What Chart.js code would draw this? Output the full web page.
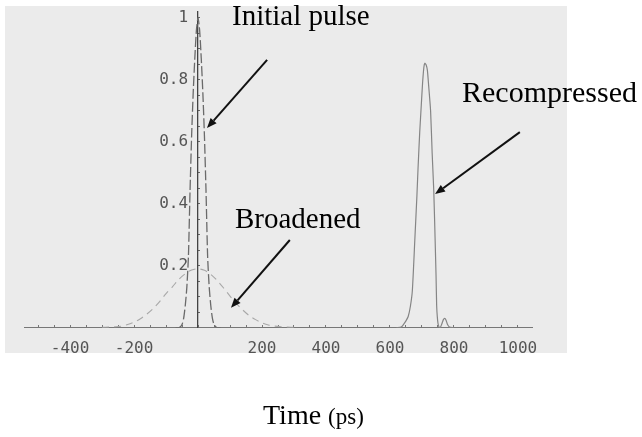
<!DOCTYPE html>
<html><head><meta charset="utf-8">
<script src="https://cdn.jsdelivr.net/npm/chart.js@4.4.1/dist/chart.umd.min.js"></script>
<style>
html,body{margin:0;padding:0;background:#fff;}
#wrap{position:relative;width:642px;height:437px;overflow:hidden;}
#panel{position:absolute;left:5px;top:6px;width:562px;height:347px;background:#ebebeb;}
canvas{position:absolute;left:0;top:0;}
.lbl{position:absolute;font-family:"Liberation Serif","Times New Roman",serif;color:#000;line-height:1;white-space:nowrap;}
</style></head><body>
<div id="wrap">
<div id="panel"></div>
<canvas id="c" width="642" height="437"></canvas>
<div class="lbl" style="left:232px;top:1px;font-size:29px">Initial pulse</div>
<div class="lbl" style="left:235px;top:204px;font-size:29px">Broadened</div>
<div class="lbl" style="left:462px;top:77px;font-size:30px">Recompressed</div>
<div class="lbl" style="left:263px;top:401px;font-size:28px">Time <span style="font-size:23px">(ps)</span></div>
</div>
<script>
// ---- data (time in ps, intensity normalised) ----
const initialT = [-70,-60,-55,-50,-45,-40,-35,-30,-25,-20,-15,-10,-5,0,5,10,15,20,25,30,35,40,45,50,55,60,70];
const initialI = [0,0,0.003,0.01,0.03,0.07,0.13,0.23,0.44,0.62,0.76,0.87,0.96,1.0,0.96,0.87,0.76,0.62,0.44,0.23,0.13,0.07,0.03,0.01,0.003,0,0];

const broadT = [-300,-280,-260,-240,-220,-200,-180,-160,-140,-120,-100,-80,-60,-40,-20,0,20,40,60,80,100,120,140,160,180,200,220,240,260,280,300];
const broadI = [0.001,0.002,0.003,0.005,0.01,0.018,0.029,0.044,0.062,0.084,0.11,0.132,0.156,0.174,0.186,0.19,0.185,0.172,0.152,0.128,0.102,0.078,0.057,0.039,0.026,0.016,0.009,0.005,0.003,0.002,0.001];

const recompT = [620,635,642,650,657,664,670,678,684,688,693,698,702,706,709,713,717,721,727,732,737,741,744,746,748,750,753,757,762,767,771,775,780,786,800];
const recompI = [0,0.002,0.01,0.022,0.036,0.07,0.12,0.29,0.42,0.52,0.63,0.72,0.79,0.84,0.853,0.848,0.83,0.78,0.7,0.56,0.44,0.29,0.17,0.07,0.035,0.015,0.003,0,0.012,0.026,0.03,0.025,0.01,0.002,0];

const xTickLabels = ['-400','-200','200','400','600','800','1000'];
const yTickLabels = ['0.2','0.4','0.6','0.8','1'];

// annotation arrows in data coordinates [time, intensity]
const arrowTails = [[216,0.864],[287,0.283],[1006,0.631]];
const arrowTips  = [[28,0.644],[103,0.064],[741,0.431]];

const pts = (t, v) => t.map((x, i) => ({x: x, y: v[i]}));

const arrowPlugin = {
  id: 'arrows',
  afterDatasetsDraw(chart) {
    const {ctx, scales: {x, y}} = chart;
    ctx.save();
    ctx.strokeStyle = '#111';
    ctx.fillStyle = '#111';
    ctx.lineWidth = 2;
    for (let i = 0; i < arrowTails.length; i++) {
      const x1 = x.getPixelForValue(arrowTails[i][0]), y1 = y.getPixelForValue(arrowTails[i][1]);
      const x2 = x.getPixelForValue(arrowTips[i][0]), y2 = y.getPixelForValue(arrowTips[i][1]);
      const a = Math.atan2(y2 - y1, x2 - x1);
      const hl = 10, hw = 4;
      const bx = x2 - hl * Math.cos(a), by = y2 - hl * Math.sin(a);
      ctx.beginPath(); ctx.moveTo(x1, y1); ctx.lineTo(bx, by); ctx.stroke();
      ctx.beginPath();
      ctx.moveTo(x2, y2);
      ctx.lineTo(bx + hw * Math.sin(a), by - hw * Math.cos(a));
      ctx.lineTo(bx - hw * Math.sin(a), by + hw * Math.cos(a));
      ctx.closePath(); ctx.fill();
    }
    ctx.restore();
  }
};

const tickFont = {family: '"DejaVu Sans Mono", monospace', size: 16};
const yLabelCb = (v) => { const s = String(Math.round(v * 100) / 100); return yTickLabels.includes(s) ? s : ''; };

new Chart(document.getElementById('c'), {
  type: 'scatter',
  data: {
    datasets: [
      {label: 'Broadened', data: pts(broadT, broadI), showLine: true, pointRadius: 0,
       borderColor: '#a8a8a8', borderWidth: 1.1, borderDash: [7, 5], fill: false, tension: 0.3},
      {label: 'Initial pulse', data: pts(initialT, initialI), showLine: true, pointRadius: 0,
       borderColor: '#6a6a6a', borderWidth: 1.3, borderDash: [10, 3], fill: false, tension: 0.2},
      {label: 'Recompressed', data: pts(recompT, recompI), showLine: true, pointRadius: 0,
       borderColor: '#858585', borderWidth: 1.2, fill: false, tension: 0.2}
    ]
  },
  options: {
    responsive: false,
    animation: false,
    devicePixelRatio: 1,
    layout: {padding: {left: 24, right: 110, top: 11.5, bottom: 109.3}},
    plugins: {legend: {display: false}, tooltip: {enabled: false}},
    scales: {
      x: {
        type: 'linear', min: -544, max: 1044, position: {y: 0},
        border: {display: true, color: '#777', width: 1},
        grid: {drawOnChartArea: false, drawTicks: true, tickLength: -3, color: '#777'},
        ticks: {
          stepSize: 50, autoSkip: false, includeBounds: false, maxRotation: 0, minRotation: 0,
          padding: 15, font: tickFont, color: '#555',
          callback: (v) => { const s = String(Math.round(v)); return xTickLabels.includes(s) ? s : ''; }
        }
      },
      y: {
        type: 'linear', min: 0, max: 1.02, position: {x: 0},
        border: {display: true, color: '#444', width: 1.3},
        grid: {drawOnChartArea: false, drawTicks: true, tickLength: -3, color: '#666'},
        ticks: {stepSize: 0.05, autoSkip: false, includeBounds: false, display: false}
      },
      yLabels: {
        type: 'linear', axis: 'y', min: 0, max: 1.02, position: {x: -31},
        border: {display: false},
        grid: {display: false, drawTicks: false},
        ticks: {stepSize: 0.05, autoSkip: false, includeBounds: false, padding: 0,
                font: tickFont, color: '#555', callback: yLabelCb}
      }
    }
  },
  plugins: [arrowPlugin]
});
</script>
</body></html>
